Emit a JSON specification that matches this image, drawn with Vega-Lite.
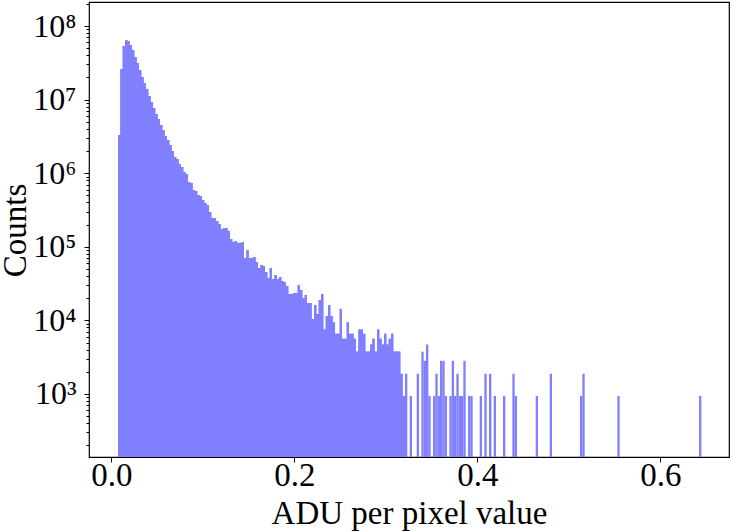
{"$schema":"https://vega.github.io/schema/vega-lite/v6.json","width":640,"height":455,"autosize":"none","padding":{"left":89,"top":2,"right":3,"bottom":75},"background":"white","config":{"font":"Liberation Serif","view":{"stroke":"black","strokeWidth":1.2}},"data":{"values":[
{"a":0.0073,"b":0.00985,"c":3300000},{"a":0.00985,"b":0.0124,"c":25800000},{"a":0.0124,"b":0.01495,"c":53500000},{"a":0.01495,"b":0.0175,"c":64500000},{"a":0.0175,"b":0.02005,"c":62500000},{"a":0.02005,"b":0.0226,"c":55200000},{"a":0.0226,"b":0.02515,"c":47200000},{"a":0.02515,"b":0.0277,"c":37900000},{"a":0.0277,"b":0.03025,"c":31400000},{"a":0.03025,"b":0.0328,"c":25200000},{"a":0.0328,"b":0.03535,"c":20300000},{"a":0.03535,"b":0.0379,"c":16800000},{"a":0.0379,"b":0.04045,"c":13900000},{"a":0.04045,"b":0.043,"c":11200000},{"a":0.043,"b":0.04555,"c":9270000},{"a":0.04555,"b":0.0481,"c":7690000},{"a":0.0481,"b":0.05065,"c":6370000},{"a":0.05065,"b":0.0532,"c":5450000},{"a":0.0532,"b":0.05575,"c":4520000},{"a":0.05575,"b":0.0583,"c":3860000},
{"a":0.0583,"b":0.06085,"c":3200000},{"a":0.06085,"b":0.0634,"c":2820000},{"a":0.0634,"b":0.06595,"c":2420000},{"a":0.06595,"b":0.0685,"c":2000000},{"a":0.0685,"b":0.07105,"c":1660000},{"a":0.07105,"b":0.0736,"c":1560000},{"a":0.0736,"b":0.07615,"c":1330000},{"a":0.07615,"b":0.0787,"c":1210000},{"a":0.0787,"b":0.08125,"c":1040000},{"a":0.08125,"b":0.0838,"c":975000},{"a":0.0838,"b":0.08635,"c":759000},{"a":0.08635,"b":0.0889,"c":736000},{"a":0.0889,"b":0.09145,"c":591000},{"a":0.09145,"b":0.094,"c":573000},{"a":0.094,"b":0.09655,"c":506000},{"a":0.09655,"b":0.0991,"c":490000},{"a":0.0991,"b":0.10165,"c":433000},{"a":0.10165,"b":0.1042,"c":394000},{"a":0.1042,"b":0.10675,"c":370000},{"a":0.10675,"b":0.1093,"c":297000},
{"a":0.1093,"b":0.11185,"c":246000},{"a":0.11185,"b":0.1144,"c":246000},{"a":0.1144,"b":0.11695,"c":224000},{"a":0.11695,"b":0.1195,"c":204000},{"a":0.1195,"b":0.12205,"c":175000},{"a":0.12205,"b":0.1246,"c":180000},{"a":0.1246,"b":0.12715,"c":180000},{"a":0.12715,"b":0.1297,"c":164000},{"a":0.1297,"b":0.13225,"c":128000},{"a":0.13225,"b":0.1348,"c":116000},{"a":0.1348,"b":0.13735,"c":120000},{"a":0.13735,"b":0.1399,"c":113000},{"a":0.1399,"b":0.14245,"c":113000},{"a":0.14245,"b":0.145,"c":116000},{"a":0.145,"b":0.14755,"c":70500},{"a":0.14755,"b":0.1501,"c":90500},{"a":0.1501,"b":0.15265,"c":70500},{"a":0.15265,"b":0.1552,"c":70500},{"a":0.1552,"b":0.15775,"c":72700},{"a":0.15775,"b":0.1603,"c":62100},
{"a":0.1603,"b":0.16285,"c":51500},{"a":0.16285,"b":0.1654,"c":56600},{"a":0.1654,"b":0.16795,"c":54800},{"a":0.16795,"b":0.1705,"c":45500},{"a":0.1705,"b":0.17305,"c":37700},{"a":0.17305,"b":0.1756,"c":51500},{"a":0.1756,"b":0.17815,"c":36500},{"a":0.17815,"b":0.1807,"c":41400},{"a":0.1807,"b":0.18325,"c":36500},{"a":0.18325,"b":0.1858,"c":38900},{"a":0.1858,"b":0.18835,"c":34300},{"a":0.18835,"b":0.1909,"c":33300},{"a":0.1909,"b":0.19345,"c":29300},{"a":0.19345,"b":0.196,"c":22900},{"a":0.196,"b":0.19855,"c":22900},{"a":0.19855,"b":0.2011,"c":23600},{"a":0.2011,"b":0.20365,"c":23600},{"a":0.20365,"b":0.2062,"c":30300},{"a":0.2062,"b":0.20875,"c":25900},{"a":0.20875,"b":0.2113,"c":20100},
{"a":0.2113,"b":0.21385,"c":22100},{"a":0.21385,"b":0.2164,"c":17200},{"a":0.2164,"b":0.21895,"c":17200},{"a":0.21895,"b":0.2215,"c":10400},{"a":0.2215,"b":0.22405,"c":16200},{"a":0.22405,"b":0.2266,"c":12200},{"a":0.2266,"b":0.22915,"c":18900},{"a":0.22915,"b":0.2317,"c":22900},{"a":0.2317,"b":0.23425,"c":7520},{"a":0.23425,"b":0.2368,"c":11500},{"a":0.2368,"b":0.23935,"c":16200},{"a":0.23935,"b":0.2419,"c":11500},{"a":0.2419,"b":0.24445,"c":9400},{"a":0.24445,"b":0.247,"c":6580},{"a":0.247,"b":0.24955,"c":6580},{"a":0.24955,"b":0.2521,"c":14300},{"a":0.2521,"b":0.25465,"c":5640},{"a":0.25465,"b":0.2572,"c":5640},{"a":0.2572,"b":0.25975,"c":9400},{"a":0.25975,"b":0.2623,"c":6580},
{"a":0.2623,"b":0.26485,"c":6580},{"a":0.26485,"b":0.2674,"c":5640},{"a":0.2674,"b":0.26995,"c":3760},{"a":0.26995,"b":0.2725,"c":7520},{"a":0.2725,"b":0.27505,"c":7520},{"a":0.27505,"b":0.2776,"c":6580},{"a":0.2776,"b":0.28015,"c":3760},{"a":0.28015,"b":0.2827,"c":3760},{"a":0.2827,"b":0.28525,"c":4700},{"a":0.28525,"b":0.2878,"c":5640},{"a":0.2878,"b":0.29035,"c":3760},{"a":0.29035,"b":0.2929,"c":7520},{"a":0.2929,"b":0.29545,"c":5640},{"a":0.29545,"b":0.298,"c":4700},{"a":0.298,"b":0.30055,"c":6580},{"a":0.30055,"b":0.3031,"c":4700},{"a":0.3031,"b":0.30565,"c":5640},{"a":0.30565,"b":0.3082,"c":6580},{"a":0.3082,"b":0.31075,"c":3760},{"a":0.31075,"b":0.3133,"c":3760},
{"a":0.3133,"b":0.31585,"c":3760},{"a":0.31585,"b":0.3184,"c":1880},{"a":0.3184,"b":0.32095,"c":940},{"a":0.32095,"b":0.3235,"c":1880},{"a":0.32605,"b":0.3286,"c":940},{"a":0.3337,"b":0.33625,"c":1880},{"a":0.3388,"b":0.34135,"c":3760},{"a":0.34135,"b":0.3439,"c":2820},{"a":0.3439,"b":0.34645,"c":4700},{"a":0.34645,"b":0.349,"c":940},{"a":0.35155,"b":0.3541,"c":940},{"a":0.3541,"b":0.35665,"c":1880},{"a":0.35665,"b":0.3592,"c":940},{"a":0.3592,"b":0.36175,"c":2820},{"a":0.36175,"b":0.3643,"c":2820},{"a":0.3643,"b":0.36685,"c":940},{"a":0.3694,"b":0.37195,"c":940},{"a":0.37195,"b":0.3745,"c":2820},{"a":0.3745,"b":0.37705,"c":940},{"a":0.37705,"b":0.3796,"c":1880},
{"a":0.3796,"b":0.38215,"c":940},{"a":0.38215,"b":0.3847,"c":940},{"a":0.3847,"b":0.38725,"c":2820},{"a":0.3898,"b":0.39235,"c":940},{"a":0.39235,"b":0.3949,"c":940},{"a":0.40255,"b":0.4051,"c":940},{"a":0.40765,"b":0.4102,"c":1880},{"a":0.41275,"b":0.4153,"c":1880},{"a":0.41785,"b":0.4204,"c":940},{"a":0.42805,"b":0.4306,"c":940},{"a":0.43825,"b":0.4408,"c":1880},{"a":0.4408,"b":0.44335,"c":940},{"a":0.46375,"b":0.4663,"c":940},{"a":0.47905,"b":0.4816,"c":1880},{"a":0.5122,"b":0.51475,"c":940},{"a":0.51475,"b":0.5173,"c":1880},{"a":0.553,"b":0.55555,"c":940},{"a":0.64225,"b":0.6448,"c":940}
]},"layer":[{"transform":[{"filter":"datum.a<0.323"}],"mark":{"type":"area","interpolate":"step-after","fill":"#8080ff","opacity":1,"clip":true},"encoding":{"x":{"field":"a","type":"quantitative","scale":{"domain":[-0.0244,0.675],"nice":false,"zero":false},"axis":{"values":[0,0.2,0.4,0.6],"format":".1f","grid":false,"domain":false,"tickColor":"black","tickSize":5,"tickWidth":1,"labelFontSize":33,"labelColor":"black","labelPadding":-3,"labelFont":"Liberation Serif","title":"ADU per pixel value","titleFont":"Liberation Serif","titleFontSize":33,"titleFontWeight":"normal","titleColor":"black","titleBaseline":"alphabetic","titleY":66,"titleX":320}},"y":{"field":"c","type":"quantitative","scale":{"type":"log","domain":[139,212000000],"nice":false},"axis":{"values":[200,300,400,500,600,700,800,900,1000,2000,3000,4000,5000,6000,7000,8000,9000,10000,20000,30000,40000,50000,60000,70000,80000,90000,100000,200000,300000,400000,500000,600000,700000,800000,900000,1000000,2000000,3000000,4000000,5000000,6000000,7000000,8000000,9000000,10000000,20000000,30000000,40000000,50000000,60000000,70000000,80000000,90000000,100000000,200000000],"labelExpr":"datum.value==1000?'10³':datum.value==10000?'10⁴':datum.value==100000?'10⁵':datum.value==1000000?'10⁶':datum.value==10000000?'10⁷':datum.value==100000000?'10⁸':''","labelOverlap":false,"grid":false,"domain":false,"tickColor":"black","tickWidth":1,"tickSize":{"condition":{"test":"indexof([1000,10000,100000,1000000,10000000,100000000],datum.value)>=0","value":5},"value":3},"labelFontSize":32,"labelColor":"black","labelPadding":8,"labelFont":"Liberation Serif","title":"Counts","titleFont":"Liberation Serif","titleFontSize":33,"titleFontWeight":"normal","titleColor":"black","titleBaseline":"middle","titleX":-74,"titleY":228}},"y2":{"datum":139}}},{"mark":{"type":"rect","fill":"#8080ff","strokeWidth":0,"opacity":1,"clip":true},"encoding":{"x":{"field":"a","type":"quantitative"},"x2":{"field":"b"},"y":{"field":"c","type":"quantitative"},"y2":{"datum":139}}}]}
